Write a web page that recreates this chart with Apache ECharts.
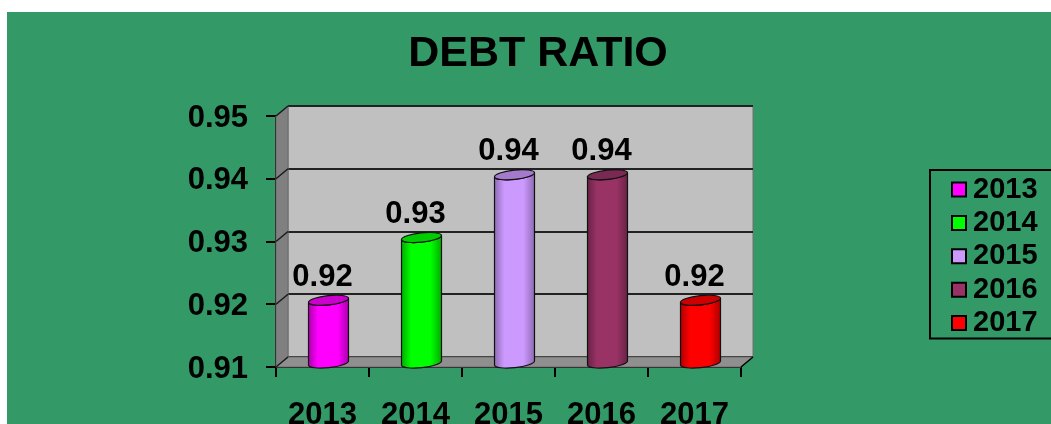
<!DOCTYPE html>
<html>
<head>
<meta charset="utf-8">
<style>
  html, body { margin: 0; padding: 0; background: #fff; overflow: hidden; }
  #chart { width: 1051px; height: 424px; }
</style>
<script src="https://cdn.jsdelivr.net/npm/echarts@6/dist/echarts.min.js"></script>
</head>
<body>
<div id="chart"></div>
<script>
// Debt ratio by year, drawn as cylinders inside a box-style plot.
const years = ['2013', '2014', '2015', '2016', '2017'];
const debtRatio = [0.92, 0.93, 0.94, 0.94, 0.92];
const barColors = ['#ff00ff', '#00ff00', '#cc99ff', '#993366', '#ff0000'];
const topColors = ['#cc00cc', '#00cc00', '#a37acc', '#7a2952', '#cc0000'];
const edgeColors = ['#a800a8', '#00a800', '#8a68ad', '#662244', '#a80000'];
const yTicks = [0.91, 0.92, 0.93, 0.94, 0.95];

const FONT = '"Liberation Sans", Arial, sans-serif';
const DEPTH_X = 12;
const DEPTH_Y = 10;
const BAR_RATIO = 0.43;
const ELLIPSE_RY = 4.6;
const TILT = 2.1;

// Left side wall and floor of the box, with the gridline returns on the wall.
function renderBox(params, api) {
  const cs = params.coordSys;
  const left = cs.x, right = cs.x + cs.width, top = cs.y, bottom = cs.y + cs.height;
  const children = [
    { type: 'polygon', shape: { points: [[left, top], [left + DEPTH_X, top - DEPTH_Y], [left + DEPTH_X, bottom - DEPTH_Y], [left, bottom]] },
      style: { fill: '#808080', stroke: '#6a6a6a', lineWidth: 1 } },
    { type: 'polygon', shape: { points: [[left, bottom], [right, bottom], [right + DEPTH_X, bottom - DEPTH_Y], [left + DEPTH_X, bottom - DEPTH_Y]] },
      style: { fill: '#8f8f8f', stroke: '#6a6a6a', lineWidth: 1 } }
  ];
  yTicks.forEach(function (t) {
    const y = api.coord([years[0], t])[1];
    children.push({ type: 'line', shape: { x1: left, y1: y, x2: left + DEPTH_X, y2: y - DEPTH_Y },
      style: { stroke: '#1a1a1a', lineWidth: 1.5 } });
  });
  children.push({ type: 'line', shape: { x1: right, y1: bottom, x2: right + DEPTH_X, y2: bottom - DEPTH_Y },
    style: { stroke: '#000', lineWidth: 1.5 } });
  return { type: 'group', children: children };
}

// One cylinder, its cap and its value label.
function cylinderRenderer(index) {
  return function (params, api) {
    const value = api.value(1);
    const p = api.coord([api.value(0), value]);
    const base = api.coord([api.value(0), yTicks[0]]);
    const rx = api.size([1, 0])[0] * BAR_RATIO / 2;
    const cx = p[0] + DEPTH_X / 2;
    const topY = p[1] - DEPTH_Y / 2 + 1;
    const botY = base[1] - DEPTH_Y / 2 + 1;
    const arc = 'A' + rx + ' ' + ELLIPSE_RY + ' -6 ';
    const body = 'M' + (cx - rx) + ' ' + (topY + TILT) +
      ' L' + (cx - rx) + ' ' + (botY + TILT) +
      ' ' + arc + '0 0 ' + (cx + rx) + ' ' + (botY - TILT) +
      ' L' + (cx + rx) + ' ' + (topY - TILT) +
      ' ' + arc + '0 1 ' + (cx - rx) + ' ' + (topY + TILT) + ' Z';
    const cap = 'M' + (cx - rx) + ' ' + (topY + TILT) +
      ' ' + arc + '0 1 ' + (cx + rx) + ' ' + (topY - TILT) +
      ' ' + arc + '0 1 ' + (cx - rx) + ' ' + (topY + TILT) + ' Z';
    const shade = {
      type: 'linear', x: 0, y: 0, x2: 1, y2: 0,
      colorStops: [
        { offset: 0, color: edgeColors[index] },
        { offset: 0.25, color: barColors[index] },
        { offset: 0.72, color: barColors[index] },
        { offset: 1, color: edgeColors[index] }
      ]
    };
    return {
      type: 'group',
      children: [
        { type: 'path', shape: { pathData: body }, style: { fill: shade, stroke: '#111', lineWidth: 1.2 } },
        { type: 'path', shape: { pathData: cap }, style: { fill: topColors[index], stroke: '#111', lineWidth: 1.2 } },
        { type: 'text', style: { text: value.toFixed(2), x: p[0], y: p[1] - 27, align: 'center', verticalAlign: 'middle',
            fill: '#000', font: 'bold 31px ' + FONT } }
      ]
    };
  };
}

const cylinders = years.map(function (year, i) {
  return {
    name: year,
    type: 'custom',
    xAxisIndex: 0,
    yAxisIndex: 0,
    z: 5,
    itemStyle: { color: barColors[i] },
    clip: false,
    renderItem: cylinderRenderer(i),
    data: [[year, debtRatio[i]]]
  };
});

const chart = echarts.init(document.getElementById('chart'), null, { renderer: 'canvas' });
chart.setOption({
  animation: false,
  backgroundColor: '#ffffff',
  graphic: [{
    type: 'rect', z: -10, silent: true, left: 7, top: 12,
    shape: { width: 1044, height: 412 }, style: { fill: '#339966' }
  }],
  title: {
    text: 'DEBT RATIO', left: 533, top: 28, textAlign: 'center',
    textStyle: { fontFamily: FONT, fontWeight: 'bold', fontSize: 43, color: '#000' }
  },
  legend: {
    data: years, orient: 'vertical', left: 930, top: 170,
    padding: [5, 40, 1, 21],
    backgroundColor: 'transparent', borderColor: '#000', borderWidth: 2,
    icon: 'rect', itemWidth: 14, itemHeight: 14, itemGap: 4.4,
    itemStyle: { borderColor: '#000', borderWidth: 2 },
    textStyle: { fontFamily: FONT, fontWeight: 'bold', fontSize: 29, color: '#000', padding: [0, 0, 0, 2] },
    selectedMode: false
  },
  grid: [
    { left: 276, top: 116, width: 465, height: 251, outerBoundsMode: 'none' },
    { left: 288, top: 106, width: 465, height: 251, outerBoundsMode: 'none', show: true, backgroundColor: '#c0c0c0', borderColor: '#707070', borderWidth: 1 }
  ],
  xAxis: [
    { type: 'category', gridIndex: 0, data: years, boundaryGap: true,
      axisLine: { show: true, lineStyle: { color: '#000', width: 2 } },
      axisTick: { show: true, alignWithLabel: false, length: 10, lineStyle: { color: '#000', width: 2 } },
      axisLabel: { margin: 33, color: '#000', fontFamily: FONT, fontWeight: 'bold', fontSize: 31, interval: 0 } },
    { type: 'category', gridIndex: 1, data: years, show: false }
  ],
  yAxis: [
    { type: 'value', gridIndex: 0, min: 0.91, max: 0.95, interval: 0.01,
      axisLine: { show: true, lineStyle: { color: '#000', width: 2 } },
      axisTick: { show: true, length: 10, lineStyle: { color: '#000', width: 2 } },
      splitLine: { show: false },
      axisLabel: { margin: 28, color: '#000', fontFamily: FONT, fontWeight: 'bold', fontSize: 31,
        verticalAlign: 'top', lineHeight: 4,
        formatter: function (v) { return v.toFixed(2); } } },
    { type: 'value', gridIndex: 1, min: 0.91, max: 0.95, interval: 0.01,
      axisLine: { show: false }, axisTick: { show: false }, axisLabel: { show: false },
      splitLine: { show: true, lineStyle: { color: '#222', width: 2 } } }
  ],
  series: [{
    type: 'custom', name: 'box', xAxisIndex: 0, yAxisIndex: 0, z: 1, silent: true, clip: false,
    renderItem: renderBox, data: [[years[0], yTicks[0]]]
  }].concat(cylinders)
});
</script>
</body>
</html>
